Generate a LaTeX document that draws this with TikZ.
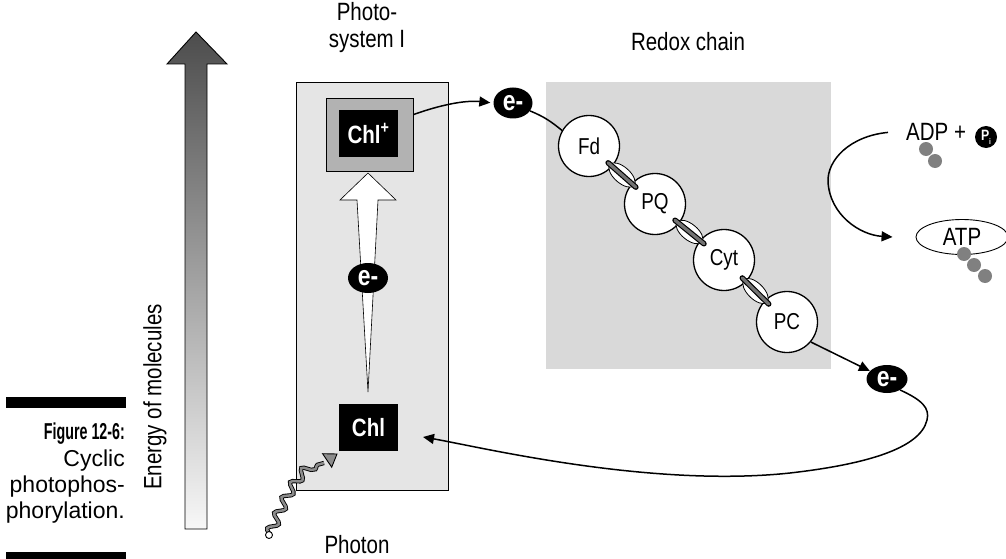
\documentclass[tikz,border=0pt]{standalone}
\usepackage{graphicx}
\usepackage{fontspec}
\setmainfont{Liberation Sans}[FakeStretch=0.82]
\newfontfamily\capfont{Liberation Sans}
\usetikzlibrary{arrows.meta,decorations.pathmorphing,shapes.geometric,calc}
\begin{document}
\begin{tikzpicture}[x=1pt,y=-1pt,
  every node/.style={font=\fontsize{25}{27}\selectfont},
  elec/.style={ellipse, fill=black, text=white, inner sep=0pt, minimum width=40pt, minimum height=30pt, font=\fontsize{28}{28}\selectfont\bfseries},
  carrier/.style={circle, draw, line width=1.3pt, fill=white, minimum size=61pt, inner sep=0pt, font=\fontsize{23}{23}\selectfont},
  chlbox/.style={fill=black, text=white, minimum width=59pt, minimum height=47pt, inner sep=0pt, font=\fontsize{25}{25}\selectfont\bfseries},
  graydot/.style={circle, fill=black!50, minimum size=14pt, inner sep=0pt},
  conn/.style={line width=1.5pt},
  arr/.style={conn, -{Triangle[length=11pt,width=10pt]}},
  linkoval/.style={ellipse, draw, fill=white, line width=0.8pt, minimum width=32pt, minimum height=16pt, inner sep=0pt},
]
\useasboundingbox (0,0) rectangle (1006,559);

% energy arrow
\draw[line width=0.9pt, top color=black!70, bottom color=black!3]
  (185,529) -- (185,64) -- (167,64) -- (196,32) -- (227,64) -- (207,64) -- (207,529) -- cycle;
\node[rotate=90] (energy) at (155,397) {Energy of molecules};

% caption
\fill (6,397) rectangle (126,408);
\fill (6,552) rectangle (126,562);
\node[anchor=north east, align=right, inner sep=0pt, font=\capfont\fontsize{23}{26.3}\selectfont] (caption) at (125,423)
  {\scalebox{0.62}[1]{\bfseries Figure 12-6:}\\Cyclic\\photophos-\\phorylation.};

% photosystem I
\draw[fill=black!10, line width=0.8pt] (296,82) rectangle (448,490);
\node[align=center] (pslabel) at (367,28) {Photo-\\system I};
\node[draw, fill=black!30, line width=0.8pt, minimum width=87pt, minimum height=73pt, inner sep=0pt] (chlpout) at (369.5,134.5) {};
\node[chlbox] (chlp) at (368.5,133.5) {Chl\textsuperscript{+}};
\draw[fill=white, line width=0.6pt] (368,173) -- (396,200) -- (378,200) -- (368,392) -- (357,200) -- (340,200) -- cycle;
\node[elec] (e1) at (368,278) {e-};
\node[chlbox] (chl) at (368.5,427.5) {Chl};

% photon
\coordinate (phs) at (269,535);
\coordinate (phe) at (324,463);
\coordinate (pht) at (337,454);
\draw[decorate, decoration={snake, amplitude=4.5pt, segment length=17pt, post length=2pt}, double=black!45, double distance=2.5pt, line width=0.9pt]
  (phs) .. controls (283,505) and (295,470) .. (phe);
\draw[line width=0.9pt, fill=black!45] (pht) -- (331.7,467.2) -- (322.6,453.7) -- cycle;
\draw[fill=white, line width=0.9pt] (phs) circle (3.5);
\node[anchor=base, inner sep=0pt] (photon) at (357,553) {Photon};

% redox chain
\fill[black!15] (546,82) rectangle (831,369);
\node (redox) at (688,42) {Redox chain};
\node[carrier] (fd) at (589,146) {Fd};
\node[carrier] (pq) at (655,204) {PQ};
\node[carrier] (cyt) at (724,260) {Cyt};
\node[carrier] (pc) at (787,322) {PC};
\foreach \a/\b/\n in {fd/pq/1, pq/cyt/2, cyt/pc/3} {
  \path (\a) -- (\b) node[linkoval, sloped, pos=0.5] (link\n) {};
  \draw[line width=5.5pt, line cap=round] ($(\a)!0.29!(\b)$) -- ($(\a)!0.71!(\b)$);
  \draw[line width=3.2pt, black!55, line cap=round] ($(\a)!0.29!(\b)$) -- ($(\a)!0.71!(\b)$);
}

% electrons and connectors
\node[elec, minimum width=39pt, minimum height=31pt] (etop) at (513,103) {e-};
\draw[arr, shorten >=3pt] ([yshift=-17pt]chlpout.north east) .. controls (440,105) and (465,100) .. (etop.west);
\draw[conn] (etop.-25) .. controls +(15,6) and +(-10,-8) .. (fd.150);
\node[elec, minimum width=41pt, minimum height=28pt] (e2) at (887,379) {e-};
\draw[arr] (pc.-40) -- (e2.155);
\coordinate (chlin) at (423,437);
\draw[arr] (e2.-40) .. controls (922,400) and (930,408) .. (927,420)
  .. controls (920,450) and (860,465) .. (790,473)
  .. controls (650,488) and (480,447) .. (chlin);

% ADP / ATP
\node[anchor=base west, inner sep=0pt] (adp) at (906,141) {ADP +};
\node[circle, fill=black, minimum size=22pt, inner sep=0pt, text=white, font=\fontsize{15}{15}\selectfont\bfseries] (pi) at (986,137)
  {P\raisebox{-4pt}{\fontsize{8}{8}\selectfont i}};
\node[graydot] (d1) at (926,149) {};
\node[graydot] (d2) at (935,161) {};
\node[ellipse, draw, line width=0.9pt, minimum width=92pt, minimum height=35pt, inner sep=0pt] (atp) at (962,237) {ATP};
\node[graydot] (d3) at (964,254) {};
\node[graydot] (d4) at (974,265) {};
\node[graydot] (d5) at (985,276) {};
\draw[arr] ([xshift=-18pt]adp.west) .. controls (850,136) and (827,160) .. (828,182)
  .. controls (830,215) and (860,235) .. ([xshift=-23pt]atp.west);
\end{tikzpicture}
\end{document}
